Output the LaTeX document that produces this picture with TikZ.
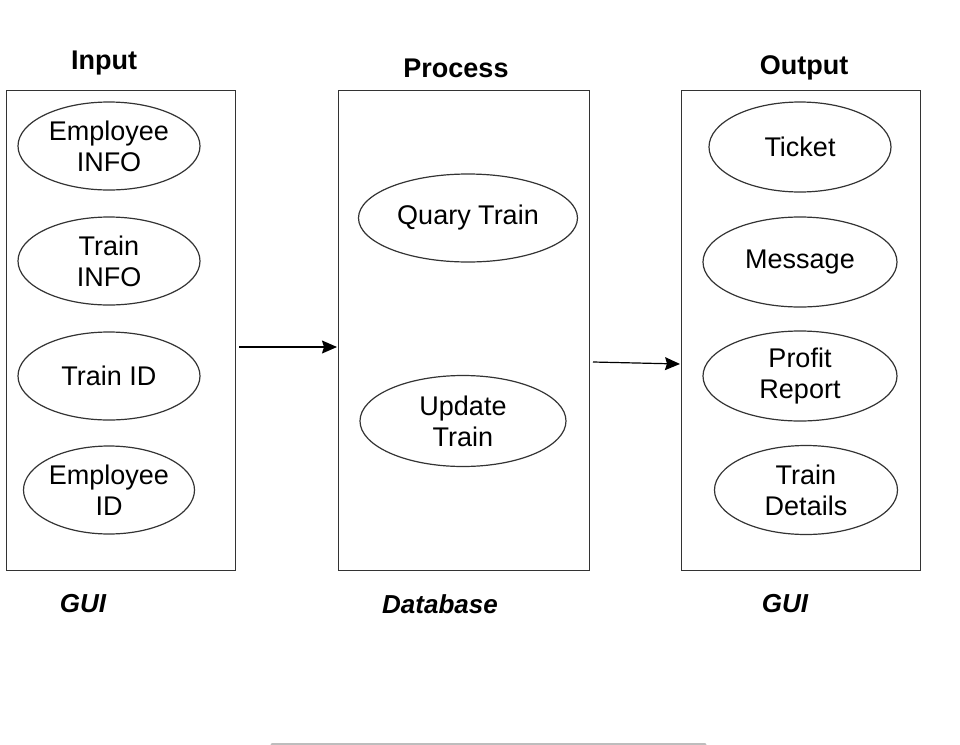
\documentclass[tikz,border=0pt]{standalone}
\usepackage{fontspec}
\setmainfont{Liberation Sans}
\usetikzlibrary{shapes.geometric,arrows.meta}
\definecolor{edge}{HTML}{333333}
\definecolor{bar}{HTML}{BDBDBD}

\begin{document}
\begin{tikzpicture}[x=0.5pt, y=-0.5pt, line width=0.6pt,
  panel/.style={draw=edge, anchor=north west, inner sep=0pt, minimum width=#1},
  blob/.style={draw=edge, ellipse, inner sep=0pt, align=center,
    minimum height=44pt, font=\fontsize{13.5}{15.5}\selectfont},
  heading/.style={font=\fontsize{13.5}{15}\bfseries\selectfont},
  tag/.style={font=\fontsize{13}{15}\bfseries\itshape\selectfont}]
\useasboundingbox (0,0) rectangle (960,745);
% titles
\node[heading] (tin) at (104,63) {Input};
\node[heading] (tproc) at (456,68) {Process};
\node[heading] (tout) at (804,68) {Output};
% boxes
\node[panel=114.5pt, minimum height=240pt] (inbox) at (6,90) {};
\node[panel=125.5pt, minimum height=240pt] (procbox) at (338,90) {};
\node[panel=119.5pt, minimum height=240pt] (outbox) at (681,90) {};
% input side
\node[blob, minimum width=91pt] (empinfo) at (109,146) {Employee\\INFO};
\node[blob, minimum width=91pt] (traininfo) at (109,261) {Train\\INFO};
\node[blob, minimum width=91pt] (trainid) at (109,376) {Train ID};
\node[blob, minimum width=85.5pt] (empid) at (109,490) {Employee\\ID};
% process
\node[blob, minimum width=109.5pt] (quary) at (468,218) {Quary Train};
\node[blob, minimum width=103pt, minimum height=45.5pt] (update) at (463,421) {Update\\Train};
% output side
\node[blob, minimum width=91pt, minimum height=45pt] (ticket) at (800,147) {Ticket};
\node[blob, minimum width=97pt, minimum height=45pt] (msg) at (800,262) {Message};
\node[blob, minimum width=97pt, minimum height=45pt] (profit) at (800,376) {Profit\\Report};
\node[blob, minimum width=91.5pt, minimum height=44.5pt] (details) at (806,490) {Train\\Details};
% arrows
\coordinate (a1) at (239,347);
\coordinate (b1) at (337,347);
\coordinate (a2) at (593,362);
\coordinate (b2) at (680,364);
\draw[-{Stealth[length=7.5pt,width=6.5pt,inset=1pt]}] (a1) -- (b1);
\draw[-{Stealth[length=7.5pt,width=6.5pt,inset=1pt]}] (a2) -- (b2);
% layer labels
\node[tag] (gui1) at (83,604) {GUI};
\node[tag] (db) at (440,604) {Database};
\node[tag] (gui2) at (785,604) {GUI};
% bottom bar
\coordinate (s1) at (272,744);
\coordinate (s2) at (705,744);
\draw[bar, line width=1.5pt, line cap=round] (s1) -- (s2);
\end{tikzpicture}
\end{document}
